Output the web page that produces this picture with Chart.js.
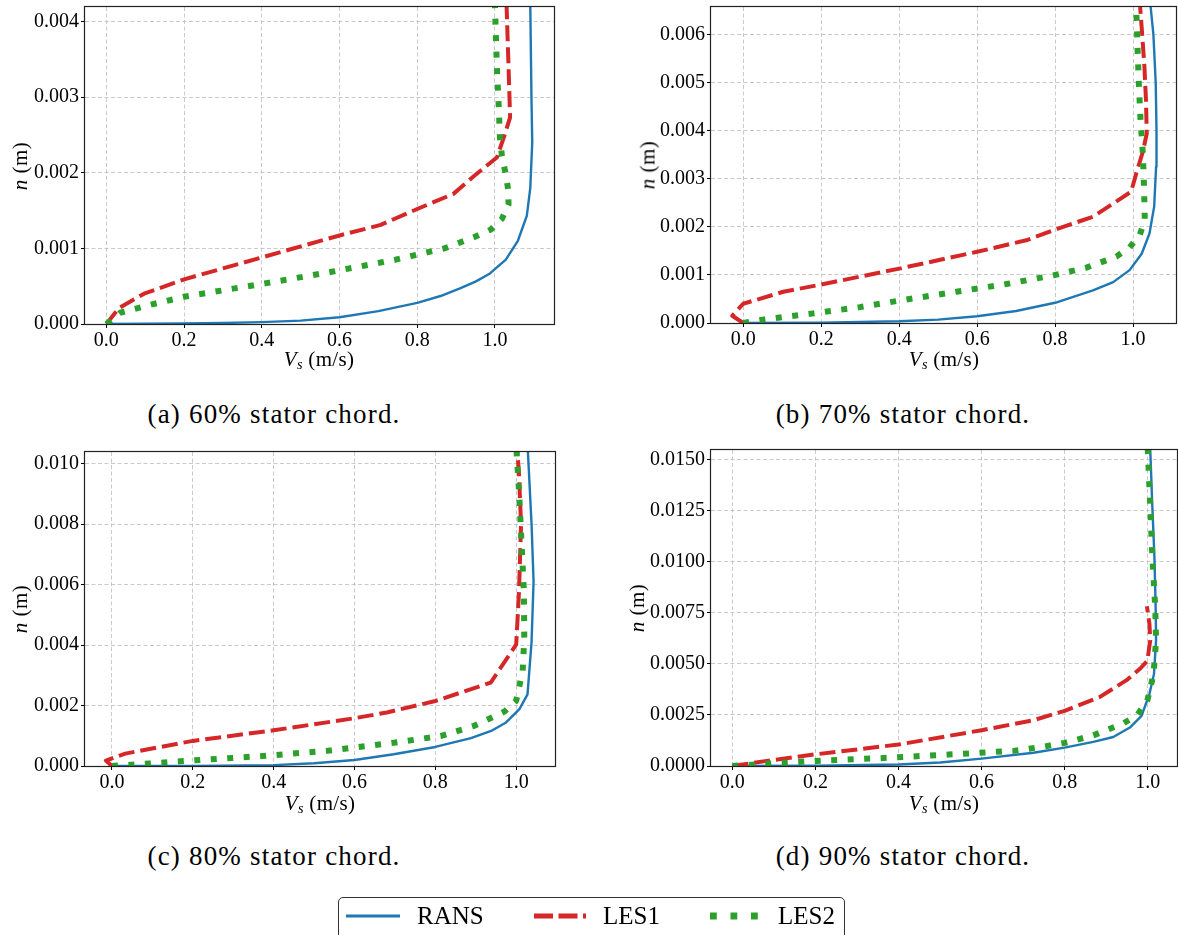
<!DOCTYPE html>
<html>
<head>
<meta charset="utf-8">
<script src="https://cdn.jsdelivr.net/npm/chart.js@4/dist/chart.umd.min.js"></script>
<style>
  body { margin: 0; width: 1178px; height: 935px; background: #fff; position: relative; overflow: hidden;
         font-family: "Liberation Serif", "Times New Roman", serif; color: #000; }
  canvas { position: absolute; }
  .cap { position: absolute; font-size: 27px; letter-spacing: 1.2px; white-space: nowrap; transform: translate(-50%, -50%); }
  .xt { position: absolute; font-size: 21px; letter-spacing: 0.3px; white-space: nowrap; transform: translate(-50%, -50%); }
  .yt { position: absolute; font-size: 21px; letter-spacing: 0.5px; white-space: nowrap; transform: translate(-50%, -50%) rotate(-90deg); }
  .xt sub { font-size: 0.68em; font-style: italic; vertical-align: -0.25em; }
  .leg { position: absolute; left: 338px; top: 897px; width: 505px; height: 60px; border: 1.3px solid #333; border-radius: 5px; }
  .lt { position: absolute; font-size: 25px; white-space: nowrap; transform: translateY(-50%); }
</style>
</head>
<body>

<canvas id="chartA" width="570" height="390" style="left:0px; top:0px"></canvas>
<canvas id="chartB" width="588" height="390" style="left:590px; top:0px"></canvas>
<canvas id="chartC" width="570" height="390" style="left:0px; top:440px"></canvas>
<canvas id="chartD" width="588" height="390" style="left:590px; top:440px"></canvas>

<div class="xt" style="left:319px; top:360px"><i>V</i><sub>s</sub> (m/s)</div>
<div class="xt" style="left:944px; top:360px"><i>V</i><sub>s</sub> (m/s)</div>
<div class="xt" style="left:320px; top:804px"><i>V</i><sub>s</sub> (m/s)</div>
<div class="xt" style="left:944px; top:804px"><i>V</i><sub>s</sub> (m/s)</div>

<div class="yt" style="left:20px; top:166px"><i>n</i> (m)</div>
<div class="yt" style="left:648px; top:165px"><i>n</i> (m)</div>
<div class="yt" style="left:20px; top:609px"><i>n</i> (m)</div>
<div class="yt" style="left:637px; top:608px"><i>n</i> (m)</div>

<div class="cap" style="left:274px; top:414px">(a) 60% stator chord.</div>
<div class="cap" style="left:903px; top:414px">(b) 70% stator chord.</div>
<div class="cap" style="left:274px; top:856px">(c) 80% stator chord.</div>
<div class="cap" style="left:903px; top:856px">(d) 90% stator chord.</div>

<div class="leg"></div>
<svg width="1178" height="935" style="position:absolute; left:0; top:0">
  <line x1="346" y1="916" x2="400" y2="916" stroke="#1f77b4" stroke-width="2.8"/>
  <line x1="534" y1="916" x2="586" y2="916" stroke="#d62728" stroke-width="4.8" stroke-dasharray="19 5.5"/>
  <line x1="710" y1="916" x2="760" y2="916" stroke="#2ca02c" stroke-width="6.8" stroke-dasharray="6.8 13.7"/>
</svg>
<div class="lt" style="left:417px; top:916px">RANS</div>
<div class="lt" style="left:603px; top:916px">LES1</div>
<div class="lt" style="left:778px; top:916px">LES2</div>

<script>
// tick labels
const xTicks = ["0.0", "0.2", "0.4", "0.6", "0.8", "1.0"];
const yTicksA = ["0.000", "0.001", "0.002", "0.003", "0.004"];
const yTicksB = ["0.000", "0.001", "0.002", "0.003", "0.004", "0.005", "0.006"];
const yTicksC = ["0.000", "0.002", "0.004", "0.006", "0.008", "0.010"];
const yTicksD = ["0.0000", "0.0025", "0.0050", "0.0075", "0.0100", "0.0125", "0.0150"];

// (a) 60% stator chord: Vs (m/s) and n (m)
const ransA_v = [0, 0.1, 0.2, 0.3, 0.4, 0.5, 0.6, 0.7, 0.8, 0.86, 0.91, 0.95, 0.985, 1.028, 1.059, 1.082, 1.091, 1.096, 1.094, 1.091];
const ransA_n = [0, 0.000003, 0.000007, 0.000013, 0.000025, 0.000045, 0.00009, 0.00017, 0.00028, 0.00037, 0.00047, 0.00056, 0.00066, 0.00085, 0.0011, 0.00143, 0.0018, 0.0024, 0.003, 0.0042];
const les1A_v = [0, 0.032, 0.097, 0.2, 0.4, 0.6, 0.706, 0.8, 0.893, 0.947, 1.005, 1.025, 1.039, 1.035, 1.03];
const les1A_n = [0, 0.00021, 0.0004, 0.00059, 0.00088, 0.00117, 0.00131, 0.00152, 0.00172, 0.00196, 0.0022, 0.0025, 0.00273, 0.0034, 0.0042];
const les2A_v = [0, 0.036, 0.118, 0.2, 0.412, 0.58, 0.744, 0.87, 0.947, 0.99, 1.018, 1.035, 1.034, 1.027, 1.018, 1.013, 1.01, 1.005, 1.0];
const les2A_n = [0, 0.00015, 0.00026, 0.00036, 0.00054, 0.00069, 0.00085, 0.001, 0.00115, 0.00125, 0.00139, 0.00158, 0.00178, 0.002, 0.00222, 0.00245, 0.00285, 0.0034, 0.0042];

// (b) 70% stator chord
const ransB_v = [0, 0.2, 0.4, 0.5, 0.6, 0.7, 0.8, 0.897, 0.949, 0.991, 1.022, 1.042, 1.054, 1.059, 1.06, 1.058, 1.052, 1.045];
const ransB_n = [0, 0.000008, 0.000035, 0.00007, 0.00014, 0.00025, 0.00042, 0.00068, 0.00085, 0.0011, 0.00144, 0.00186, 0.00242, 0.00325, 0.004, 0.005, 0.006, 0.00657];
const les1B_v = [0, -0.028, 0, 0.103, 0.2, 0.4, 0.6, 0.726, 0.8, 0.897, 0.995, 1.008, 1.025, 1.035, 1.033, 1.029, 1.023, 1.018];
const les1B_n = [0, 0.00015, 0.0004, 0.00065, 0.0008, 0.00113, 0.00148, 0.00172, 0.00194, 0.00221, 0.00273, 0.00311, 0.00356, 0.00394, 0.00464, 0.00533, 0.00603, 0.00657];
const les2B_v = [0, 0.051, 0.171, 0.299, 0.419, 0.547, 0.675, 0.795, 0.88, 0.957, 0.991, 1.017, 1.03, 1.028, 1.025, 1.019, 1.015, 1.012, 1.008];
const les2B_n = [0, 0.00007, 0.00019, 0.00033, 0.00049, 0.00065, 0.00081, 0.00099, 0.00115, 0.00138, 0.00157, 0.00183, 0.00214, 0.00283, 0.00353, 0.00422, 0.00492, 0.00558, 0.00657];

// (c) 80% stator chord
const ransC_v = [0, 0.2, 0.4, 0.5, 0.6, 0.697, 0.8, 0.888, 0.938, 0.975, 1.008, 1.028, 1.038, 1.043, 1.038, 1.029];
const ransC_n = [0, 0.000005, 0.00003, 0.00009, 0.0002, 0.00039, 0.00063, 0.00092, 0.00116, 0.00144, 0.00188, 0.00237, 0.0041, 0.0061, 0.008, 0.01039];
const les1C_v = [0, -0.015, 0.033, 0.2, 0.4, 0.6, 0.68, 0.8, 0.863, 0.937, 1.0, 1.007, 1.012, 1.007, 1.003];
const les1C_n = [0, 0.00018, 0.00041, 0.00083, 0.00118, 0.00158, 0.00177, 0.00215, 0.00243, 0.00276, 0.00402, 0.00578, 0.00798, 0.00964, 0.01039];
const les2C_v = [0, 0.091, 0.207, 0.373, 0.531, 0.697, 0.813, 0.896, 0.971, 1.0, 1.016, 1.02, 1.019, 1.013, 1.007, 1.001];
const les2C_n = [0, 0.00008, 0.00019, 0.00033, 0.0005, 0.00077, 0.00099, 0.00133, 0.0018, 0.00216, 0.00314, 0.00424, 0.00578, 0.00743, 0.00909, 0.0104];

// (d) 90% stator chord
const ransD_v = [0, 0.2, 0.4, 0.5, 0.6, 0.725, 0.8, 0.869, 0.917, 0.957, 0.985, 1.004, 1.015, 1.02, 1.019, 1.016, 1.011, 1.006];
const ransD_n = [0, 0.00001, 0.00007, 0.00017, 0.00036, 0.00065, 0.0009, 0.00118, 0.00142, 0.00188, 0.00245, 0.00352, 0.0045, 0.00615, 0.00779, 0.01025, 0.0127, 0.01546];
const les1D_v = [0, 0.083, 0.2, 0.4, 0.6, 0.725, 0.8, 0.885, 0.949, 0.982, 0.999, 1.006, 1.004, 0.998];
const les1D_n = [0, 0.00025, 0.00057, 0.00105, 0.00175, 0.00224, 0.0027, 0.00338, 0.0042, 0.00477, 0.00515, 0.00615, 0.00697, 0.00782];
const les2D_v = [0, 0.083, 0.203, 0.364, 0.52, 0.677, 0.75, 0.8, 0.869, 0.941, 0.975, 0.999, 1.014, 1.02, 1.018, 1.011, 1.006, 1.0];
const les2D_n = [0, 0.00011, 0.00025, 0.00039, 0.00056, 0.00074, 0.00095, 0.00113, 0.0015, 0.00208, 0.0025, 0.0032, 0.0045, 0.00615, 0.00779, 0.01025, 0.0127, 0.0155];

function pts(xs, ys) {
    return xs.map((x, i) => ({ x: x, y: ys[i] }));
}

// box around the plot area, like the matplotlib frame
const frame = {
    id: "frame",
    afterDatasetsDraw(chart) {
        const a = chart.chartArea;
        const ctx = chart.ctx;
        ctx.save();
        ctx.strokeStyle = "#222";
        ctx.lineWidth = 1.2;
        ctx.strokeRect(Math.round(a.left) - 0.5, Math.round(a.top) - 0.5, Math.round(a.right - a.left) + 1, Math.round(a.bottom - a.top) + 1);
        ctx.restore();
    }
};

const tickFont = { family: "'Liberation Serif', 'Times New Roman', serif", size: 20 };

function makeChart(id, p) {
    new Chart(document.getElementById(id), {
        type: "scatter",
        data: {
            datasets: [
                { label: "RANS", data: pts(p.rans[0], p.rans[1]), showLine: true, borderColor: "#1f77b4", borderWidth: 2.4, order: 2 },
                { label: "LES1", data: pts(p.les1[0], p.les1[1]), showLine: true, borderColor: "#d62728", borderWidth: 4, borderDash: [16, 6], order: 1 },
                { label: "LES2", data: pts(p.les2[0], p.les2[1]), showLine: true, borderColor: "#2ca02c", borderWidth: 6, borderDash: [6, 10.5], order: 0 }
            ]
        },
        options: {
            responsive: false,
            animation: false,
            events: [],
            layout: { padding: { left: 0, right: p.padR, top: p.padT, bottom: 0 } },
            elements: {
                point: { radius: 0 },
                line: { tension: 0, fill: false, borderCapStyle: "butt", borderJoinStyle: "round" }
            },
            plugins: { legend: { display: false }, tooltip: { enabled: false } },
            scales: {
                x: {
                    type: "linear",
                    min: p.xMin,
                    max: p.xMax,
                    bounds: "data",
                    afterBuildTicks: s => { s.ticks = xTicks.map(t => ({ value: parseFloat(t) })); },
                    afterFit: s => { s.height = p.xH; s.paddingLeft = 0; s.paddingRight = 0; },
                    ticks: { callback: (v, i) => xTicks[i], font: tickFont, color: "#000", padding: 1, maxRotation: 0, autoSkip: false },
                    grid: { color: "#bdbdbd", lineWidth: 0.8, tickLength: 4, tickColor: "#000", tickWidth: 1, tickBorderDash: [] },
                    border: { display: false, dash: [4, 2.5] }
                },
                y: {
                    type: "linear",
                    min: 0,
                    max: p.yMax,
                    bounds: "data",
                    afterBuildTicks: s => { s.ticks = p.yTicks.map(t => ({ value: parseFloat(t) })); },
                    afterFit: s => { s.width = p.yW; s.paddingTop = 0; s.paddingBottom = 0; },
                    ticks: { callback: (v, i) => p.yTicks[i], font: tickFont, color: "#000", padding: 2, autoSkip: false },
                    grid: { color: "#bdbdbd", lineWidth: 0.8, tickLength: 4, tickColor: "#000", tickWidth: 1, tickBorderDash: [] },
                    border: { display: false, dash: [4, 2.5] }
                }
            }
        },
        plugins: [frame]
    });
}

makeChart("chartA", {
    rans: [ransA_v, ransA_n], les1: [les1A_v, les1A_n], les2: [les2A_v, les2A_n],
    xMin: -0.055, xMax: 1.152, yMax: 0.00419, yTicks: yTicksA,
    yW: 85, xH: 66, padR: 16, padT: 7
});

makeChart("chartB", {
    rans: [ransB_v, ransB_n], les1: [les1B_v, les1B_n], les2: [les2B_v, les2B_n],
    xMin: -0.0825, xMax: 1.11, yMax: 0.00657, yTicks: yTicksB,
    yW: 121, xH: 67, padR: 2, padT: 7
});

makeChart("chartC", {
    rans: [ransC_v, ransC_n], les1: [les1C_v, les1C_n], les2: [les2C_v, les2C_n],
    xMin: -0.0667, xMax: 1.096, yMax: 0.010385, yTicks: yTicksC,
    yW: 85, xH: 64, padR: 15, padT: 12
});

makeChart("chartD", {
    rans: [ransD_v, ransD_n], les1: [les1D_v, les1D_n], les2: [les2D_v, les2D_n],
    xMin: -0.0514, xMax: 1.0704, yMax: 0.01546, yTicks: yTicksD,
    yW: 121, xH: 64, padR: 1, padT: 10
});
</script>
</body>
</html>
